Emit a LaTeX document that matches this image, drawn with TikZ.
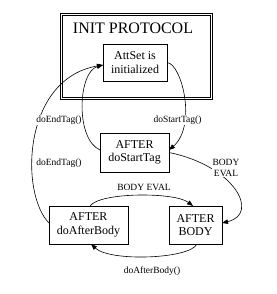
\documentclass[tikz,border=0pt]{standalone}
\usepackage{fontspec}
\setmainfont{Liberation Serif}
\usepackage{tikz}
\usetikzlibrary{arrows.meta,positioning}

\tikzset{
  statebox/.style={draw, line width=0.6pt, inner sep=0pt, outer sep=0pt, align=center,
    font=\fontsize{12}{13.5}\selectfont},
  translabel/.style={fill=white, inner sep=0.5pt, align=center,
    font=\fontsize{9.5}{10.5}\selectfont},
  trans/.style={-{Triangle[length=6pt,width=4.5pt]}, line width=0.6pt}
}

\begin{document}
\begin{tikzpicture}[x=1pt, y=1pt]
\useasboundingbox (0,0) rectangle (276,294);

% INIT PROTOCOL frame
\node[draw, double, double distance=1.3pt, line width=0.5pt, minimum width=150pt,
  minimum height=84pt, inner sep=0pt] (init) at (136.5,237.5) {};
\node[font=\fontsize{16}{18}\selectfont] (inittitle) at (133,266) {INIT PROTOCOL};

% States
\node[statebox, minimum width=64pt, minimum height=37pt] (attset) at (135,231.5) {AttSet is\\initialized};
\node[statebox, minimum width=69pt, minimum height=39pt] (start) at (134.5,141.5) {AFTER\\doStartTag};
\node[statebox, minimum width=79pt, minimum height=38pt] (afterbody) at (88.5,69) {AFTER\\doAfterBody};
\node[statebox, minimum width=53pt, minimum height=38pt] (body) at (195.5,69) {AFTER\\BODY};

% Transitions
\draw[trans] (attset.east) .. controls (182,230) and (197,168) .. ([yshift=2.5pt]start.east);
\draw[trans] ([yshift=2.5pt]start.west) .. controls (75,155) and (78,222) .. ([yshift=-2.5pt]attset.west);
\draw[trans] ([yshift=2pt]afterbody.west) .. controls (20,100) and (22,215) .. ([yshift=-2.5pt]attset.west);
\draw[trans] (start.east) .. controls (235,128) and (260,80) .. ([yshift=2pt]body.east);
\draw[trans] ([xshift=1.5pt]afterbody.north) .. controls (100,102) and (175,102) .. ([xshift=-2.5pt]body.north);
\draw[trans] ([xshift=1.5pt]body.south) .. controls (190,35) and (110,32) .. ([xshift=2.5pt]afterbody.south);

% Labels
\node[translabel] (lstart) at (177.5,174) {doStartTag()};
\node[translabel] (lend1) at (59,174) {doEndTag()};
\node[translabel] (lend2) at (59,131) {doEndTag()};
\node[translabel] (leval1) at (226,126) {BODY\\EVAL};
\node[translabel] (leval2) at (144,107) {BODY EVAL};
\node[translabel] (lafter) at (152,23) {doAfterBody()};
\end{tikzpicture}
\end{document}
